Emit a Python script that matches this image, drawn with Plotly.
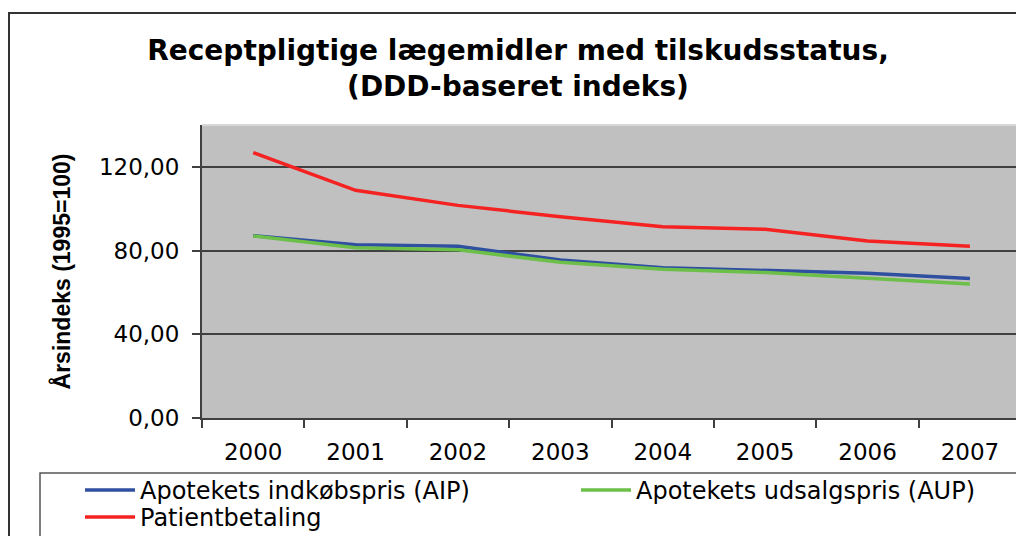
import plotly.graph_objects as go

years = ["2000", "2001", "2002", "2003", "2004", "2005", "2006", "2007"]
aip = [87.1, 82.8, 82.1, 75.5, 71.8, 70.7, 69.2, 66.6]
aup = [87.0, 81.4, 80.4, 74.4, 71.1, 69.5, 66.8, 64.0]
patient = [126.8, 108.8, 101.6, 96.2, 91.4, 90.2, 84.6, 82.1]

names = ["Apotekets indkøbspris (AIP)", "Apotekets udsalgspris (AUP)", "Patientbetaling"]
colors = ["#2F4FA0", "#6CBF48", "#F52222"]

W, H = 1016, 536
L, R, T, B = 202, 0, 125, 118
pw, ph = W - L - R, H - T - B

def px_x(x):
    return (x - L) / pw

def px_y(y):
    return (H - B - y) / ph

fig = go.Figure()
fig.add_trace(go.Scatter(x=years, y=aip, name=names[0], mode="lines",
                         line=dict(color=colors[0], width=3.5), legend="legend"))
fig.add_trace(go.Scatter(x=years, y=aup, name=names[1], mode="lines",
                         line=dict(color=colors[1], width=3.5), legend="legend2"))
fig.add_trace(go.Scatter(x=years, y=patient, name=names[2], mode="lines",
                         line=dict(color=colors[2], width=3.5), legend="legend3"))

tickfont = dict(family="DejaVu Sans", size=23, color="#000000")
legfont = dict(family="DejaVu Sans", size=24, color="#000000")

def leg(xp, yp):
    return dict(x=px_x(xp), y=px_y(yp), xanchor="left", yanchor="top",
                orientation="v", font=legfont, bgcolor="rgba(0,0,0,0)",
                itemwidth=50)

fig.update_layout(
    width=W, height=H,
    margin=dict(l=L, r=R, t=T, b=B, autoexpand=False),
    paper_bgcolor="#FFFFFF",
    plot_bgcolor="#C0C0C0",
    separators=", ",
    title=dict(
        text="Receptpligtige lægemidler med tilskudsstatus,<br>(DDD-baseret indeks)",
        font=dict(family="DejaVu Sans", size=28, color="#000000", weight="bold"),
        x=518 / W, xanchor="center", xref="container",
        y=1 - 60 / H, yanchor="top", yref="container",
    ),
    xaxis=dict(
        type="category", range=[-0.5, 7.45],
        showgrid=False, showline=True, linecolor="#404040", linewidth=2,
        ticks="outside", tickson="boundaries", ticklen=8, tickwidth=1.5, tickcolor="#404040",
        tickfont=tickfont, ticklabelstandoff=12,
        zeroline=False,
    ),
    yaxis=dict(
        range=[0, 140], dtick=40, tick0=0, tickformat=".2f",
        showgrid=True, gridcolor="#404040", gridwidth=1.5,
        showline=True, linecolor="#404040", linewidth=2,
        ticks="outside", ticklen=8, tickwidth=1.5, tickcolor="#404040",
        tickfont=tickfont, ticklabelstandoff=8,
        zeroline=False,
        title=dict(text="Årsindeks (1995=100)", standoff=22,
                   font=dict(family="Liberation Sans", size=23, color="#000000", weight="bold")),
    ),
    legend=leg(80, 468),
    legend2=leg(576, 468),
    legend3=leg(80, 495),
    showlegend=True,
)

# outer chart border (extends past the window edges)
fig.add_shape(type="rect", xref="paper", yref="paper",
              x0=px_x(9), x1=px_x(W + 20), y0=px_y(H + 20), y1=px_y(13),
              line=dict(color="#333333", width=2), fillcolor="rgba(0,0,0,0)", layer="below")
# legend border
fig.add_shape(type="rect", xref="paper", yref="paper",
              x0=px_x(40), x1=px_x(W + 20), y0=px_y(H + 20), y1=px_y(473),
              line=dict(color="#555555", width=1.5), fillcolor="rgba(0,0,0,0)", layer="above")
# light top edge of plot area
fig.add_shape(type="line", xref="paper", yref="paper",
              x0=0, x1=1, y0=1, y1=1,
              line=dict(color="#D8D8D8", width=2), layer="above")

fig.write_html(
    "out.html",
    config={"displayModeBar": False},
    post_script="document.body.style.margin='0';document.body.style.overflow='hidden';",
)
